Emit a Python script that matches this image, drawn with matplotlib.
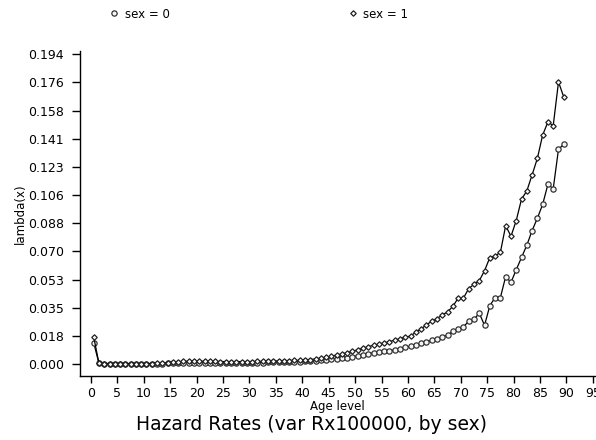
import matplotlib
matplotlib.use("Agg")
import matplotlib.pyplot as plt
from matplotlib.lines import Line2D

plt.rcParams['font.family'] = ['DejaVu Sans']

# age groups, plotted at the middle of each year
ages = [a + 0.5 for a in range(90)]

# hazard rates, sex = 0
sex0 = [0.0135,
        0.0005, 0.0004, 0.0003, 0.0003, 0.0003, 0.0003, 0.0002, 0.0002, 0.0002,
        0.0002, 0.0003, 0.0003, 0.0004, 0.0005,
        0.0006, 0.0007, 0.0008, 0.0008, 0.0008, 0.0008, 0.0008, 0.0008, 0.0008,
        0.0008, 0.0008, 0.0008, 0.0008, 0.0009, 0.0009, 0.0009, 0.0010, 0.0010,
        0.0011, 0.0012, 0.0012, 0.0013, 0.0014, 0.0015, 0.0016,
        0.0018, 0.0020, 0.0022, 0.0024, 0.0027, 0.0030, 0.0033, 0.0037, 0.0041,
        0.0046, 0.0053, 0.0060, 0.0066, 0.0071, 0.0076, 0.0080, 0.0085, 0.0089,
        0.0093, 0.0105, 0.0112, 0.0122, 0.0130, 0.0140, 0.0149, 0.0160, 0.0172,
        0.0181, 0.0206, 0.0218, 0.0234, 0.0268, 0.0281, 0.0319, 0.0243, 0.0366,
        0.0417, 0.0417, 0.0548, 0.0512, 0.0591, 0.0668, 0.0744, 0.0836, 0.0913,
        0.1000, 0.1126, 0.1098, 0.1345, 0.1376]

# hazard rates, sex = 1
sex1 = [0.0172,
        0.0005, 0.0004, 0.0003, 0.0003, 0.0003, 0.0003, 0.0003, 0.0003, 0.0003,
        0.0003, 0.0004, 0.0005, 0.0006, 0.0008,
        0.0011, 0.0014, 0.0017, 0.0019, 0.0019, 0.0018, 0.0018, 0.0017, 0.0017,
        0.0016, 0.0016, 0.0016, 0.0016, 0.0016, 0.0016, 0.0016, 0.0017, 0.0017,
        0.0018, 0.0019, 0.0020, 0.0021, 0.0022, 0.0023, 0.0023,
        0.0024, 0.0028, 0.0033, 0.0038, 0.0044, 0.0050, 0.0057, 0.0064, 0.0072,
        0.0080, 0.0090, 0.0100, 0.0110, 0.0118, 0.0126, 0.0133, 0.0141, 0.0150,
        0.0160, 0.0169, 0.0176, 0.0201, 0.0220, 0.0247, 0.0268, 0.0285, 0.0308,
        0.0327, 0.0362, 0.0413, 0.0413, 0.0473, 0.0500, 0.0522, 0.0585, 0.0667,
        0.0677, 0.0700, 0.0867, 0.0800, 0.0899, 0.1033, 0.1084, 0.1184, 0.1288,
        0.1434, 0.1516, 0.1493, 0.1766, 0.1672]

ytick_vals = [0.194 * i / 11 for i in range(12)]
ytick_labels = ['0.000', '0.018', '0.035', '0.053', '0.070', '0.088',
                '0.106', '0.123', '0.141', '0.158', '0.176', '0.194']
xtick_vals = list(range(0, 100, 5))

fig = plt.figure(figsize=(5.96, 4.40), dpi=100)
ax = fig.add_axes([0.1334, 0.1455, 0.8666, 0.7393])

ax.plot(ages, sex0, color='black', linewidth=0.9, marker='o', markersize=3.8,
        markerfacecolor='#f4f4f4', markeredgecolor='#2a2a2a', markeredgewidth=0.85)
ax.plot(ages, sex1, color='black', linewidth=0.9, marker='D', markersize=2.8,
        markerfacecolor='#f4f4f4', markeredgecolor='#1a1a1a', markeredgewidth=0.85)

ax.set_xlim(-2.18, 95.6)
ax.set_ylim(-0.0074, 0.1962)
ax.set_yticks(ytick_vals)
ax.set_yticklabels(ytick_labels)
ax.set_xticks(xtick_vals)

for side in ['top', 'right']:
    ax.spines[side].set_visible(False)
for side in ['left', 'bottom']:
    ax.spines[side].set_linewidth(1.0)

ax.tick_params(axis='y', direction='out', length=6, width=1, labelsize=9, pad=5)
ax.tick_params(axis='x', direction='out', length=5, width=1, labelsize=9, pad=3)

ax.set_ylabel('lambda(x)', fontsize=8.5, labelpad=1)
ax.set_xlabel('Age level', fontsize=8.5, labelpad=0)

fig.text(0.522, 0.035, 'Hazard Rates (var Rx100000, by sex)', fontsize=13.5,
         ha='center', va='center')

handles = [
    Line2D([], [], linestyle='none', marker='o', markersize=3.8, markerfacecolor='#f4f4f4',
           markeredgecolor='#2a2a2a', markeredgewidth=0.85),
    Line2D([], [], linestyle='none', marker='D', markersize=2.8, markerfacecolor='#f4f4f4',
           markeredgecolor='#1a1a1a', markeredgewidth=0.85),
]
fig.legend(handles, ['sex = 0', 'sex = 1'], loc='center left', bbox_to_anchor=(0.1834, 0.968),
           ncol=2, frameon=False, fontsize=8.5, handlelength=0.8, handletextpad=0.5,
           columnspacing=15.1, borderaxespad=0, borderpad=0)

fig.savefig('out.png', dpi=100)
